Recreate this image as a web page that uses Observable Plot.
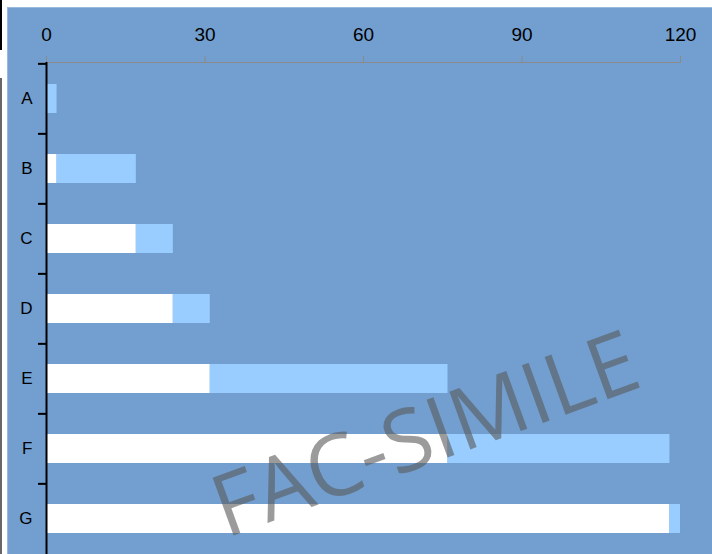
<!DOCTYPE html>
<html>
<head>
<meta charset="utf-8">
<script src="https://cdn.jsdelivr.net/npm/d3@7"></script>
<script src="https://cdn.jsdelivr.net/npm/@observablehq/plot@0.6"></script>
<style>
  html, body { margin: 0; padding: 0; background: #ffffff; width: 712px; height: 554px; overflow: hidden; position: relative; }
  #edge1 { position: absolute; left: 0; top: 0; width: 2px; height: 50px; background: #000; }
  #edge2 { position: absolute; left: 0; top: 78px; width: 2px; height: 476px; background: #666; }
  #panel { position: absolute; left: 7px; top: 7px; width: 705px; height: 547px; background: #729FCF; border-left: 1px solid #9ab9de; border-top: 1px solid #9ab9de; box-sizing: border-box; }
  #chart { position: absolute; left: 8px; top: 8px; }
  #mark { position: absolute; left: 424px; top: 431px; transform: translate(-50%, -50%) rotate(-20deg); font-family: "Open Sans", "DejaVu Sans", sans-serif; font-size: 86px; color: #5a5a5a; opacity: 0.6; white-space: nowrap; line-height: 1; pointer-events: none; }
</style>
</head>
<body>
<div id="edge1"></div>
<div id="edge2"></div>
<div id="panel"></div>
<div id="chart"></div>
<div id="mark">FAC-SIMILE</div>
<script>
const categories = ["A", "B", "C", "D", "E", "F", "G"];
const baseValues = [0, 2, 17, 24, 31, 76, 118];
const deltaValues = [2, 15, 7, 7, 45, 42, 2];
const xTicks = [0, 30, 60, 90, 120];

const rows = categories.map((c, i) => ({
  cat: c,
  base: baseValues[i],
  end: baseValues[i] + deltaValues[i]
}));

const W = 704, H = 546, mT = 54, mB = 0;
const step = (H - mT - mB) / categories.length;

const chart = Plot.plot({
  width: W,
  height: H,
  marginLeft: 38,
  marginRight: 32,
  marginTop: mT,
  marginBottom: mB,
  style: { background: "transparent", fontFamily: "'Liberation Sans', Arial, sans-serif", color: "#000" },
  x: { domain: [0, 120], label: null },
  y: { domain: categories, paddingInner: 0.59, paddingOuter: 0.295, label: null },
  marks: [
    Plot.barX(rows, { y: "cat", x1: 0, x2: "base", fill: "#ffffff" }),
    Plot.barX(rows, { y: "cat", x1: "base", x2: "end", fill: "#99CCFF" }),
    Plot.frame({ anchor: "top", stroke: "#8a8a8a" }),
    Plot.axisX({ anchor: "top", ticks: xTicks, tickSize: 7, tickPadding: 15, stroke: "#8a8a8a", fill: "#000", fontSize: 19, label: null }),
    Plot.ruleX([0], { stroke: "#000", strokeWidth: 2 }),
    Plot.axisY({ anchor: "left", tickSize: 8, tickFormat: () => "", stroke: "#000", strokeWidth: 2, dy: -step / 2, label: null }),
    Plot.axisY({ anchor: "left", tickSize: 0, tickPadding: 14, fontSize: 17, fill: "#000", label: null })
  ]
});
document.getElementById("chart").appendChild(chart);
</script>
</body>
</html>
